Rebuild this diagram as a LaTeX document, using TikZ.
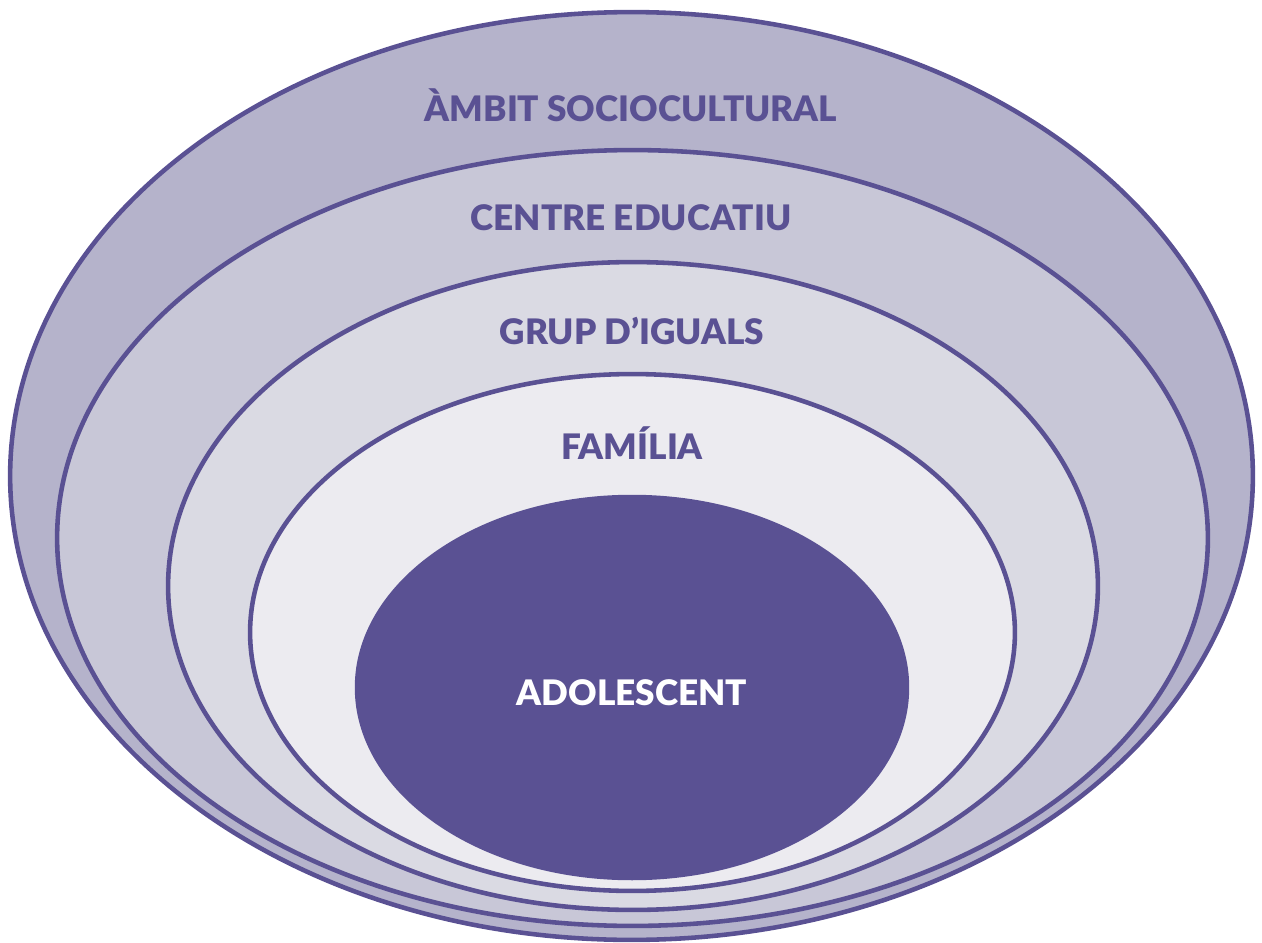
\documentclass[tikz,border=0pt]{standalone}
\usepackage{fontspec}
\setmainfont{Lato}[BoldFont={Lato Black}]
\usetikzlibrary{shapes.geometric}
\definecolor{ringLine}{RGB}{90,81,147}
\definecolor{ringOne}{RGB}{181,179,203}
\definecolor{ringTwo}{RGB}{200,199,215}
\definecolor{ringThree}{RGB}{218,218,227}
\definecolor{ringFour}{RGB}{236,235,240}
\begin{document}
\begin{tikzpicture}[x=0.02cm,y=-0.02cm,
  ring/.style={ellipse,draw=ringLine,line width=2.6pt,inner sep=0pt},
  label/.style={font=\fontsize{20}{24}\selectfont\bfseries,text=ringLine}]
\useasboundingbox (0,0) rectangle (1262,943);

% Rings
\node[ring,fill=ringOne,minimum width=24.86cm,minimum height=18.56cm] (ambit) at (631.5,476) {};
\node[ring,fill=ringTwo,minimum width=23.02cm,minimum height=15.52cm] (centre) at (632.5,538) {};
\node[ring,fill=ringThree,minimum width=18.6cm,minimum height=12.96cm] (grup) at (633,586) {};
\node[ring,fill=ringFour,minimum width=15.3cm,minimum height=10.34cm] (familia) at (632.5,632.5) {};

% Centre
\node[ring,fill=ringLine,minimum width=11cm,minimum height=7.62cm] (adol) at (632,687.5) {};

% Labels
\node[label] (lambit) at (631,105) {ÀMBIT SOCIOCULTURAL};
\node[label] (lcentre) at (631,218) {CENTRE EDUCATIU};
\node[label] (lgrup) at (632,331) {GRUP D’IGUALS};
\node[label] (lfamilia) at (632,443) {FAMÍLIA};
\node[label,text=white] (ladol) at (632,693) {ADOLESCENT};
\end{tikzpicture}
\end{document}
